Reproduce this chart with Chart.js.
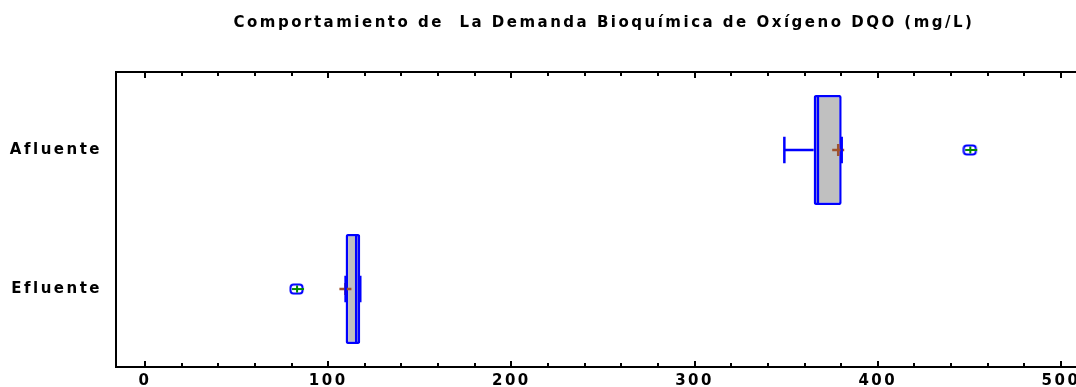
<!DOCTYPE html>
<html>
<head>
<meta charset="utf-8">
<script src="https://cdn.jsdelivr.net/npm/chart.js@4.4.0/dist/chart.umd.min.js"></script>
<style>
  html, body { margin: 0; padding: 0; background: #fff; }
  canvas { display: block; }
</style>
</head>
<body>
<canvas id="box-chart" width="1076" height="387"></canvas>
<script>
const categories = ["Afluente", "Efluente"];
const whiskerLow = [349, 109.5];
const q1 = [365, 109.5];
const median = [367.3, 115.3];
const q3 = [380.3, 117.5];
const whiskerHigh = [380.3, 117.5];
const means = [378.4, 109.4];
const outliers = [[450.5], [83]];

const majorTicks = [0, 100, 200, 300, 400, 500];
const minorTicks = [20, 40, 60, 80, 120, 140, 160, 180, 220, 240, 260, 280, 320, 340, 360, 380, 420, 440, 460, 480];

const letterGap = "2.5px";
const capHalf = 0.096;
const boxHalf = 0.39;

Chart.defaults.font.family = "'DejaVu Sans', 'Liberation Sans', Arial, sans-serif";
Chart.defaults.font.size = 15;
Chart.defaults.font.weight = "bold";
Chart.defaults.color = "#000";

// little rounded box with a green cross for the outliers
const outlierImg = document.createElement("canvas");
outlierImg.width = 16;
outlierImg.height = 12;
let oc = outlierImg.getContext("2d");
oc.fillStyle = "#fff";
oc.strokeStyle = "#0000ff";
oc.lineWidth = 2;
oc.beginPath();
oc.roundRect(1.5, 1.5, 12, 9, 3);
oc.fill();
oc.stroke();
oc.strokeStyle = "#008a00";
oc.lineWidth = 2;
oc.beginPath();
oc.moveTo(3, 6);
oc.lineTo(15, 6);
oc.moveTo(8, 2.5);
oc.lineTo(8, 9.5);
oc.stroke();

const gap = { x: NaN, y: NaN };
let whiskerPts = [];
let medianPts = [];
let meanPts = [];
let outlierPts = [];
let boxes = [];

categories.forEach((c, i) => {
  whiskerPts.push(
    { x: whiskerLow[i], y: i }, { x: q1[i], y: i }, gap,
    { x: q3[i], y: i }, { x: whiskerHigh[i], y: i }, gap,
    { x: whiskerLow[i], y: i - capHalf }, { x: whiskerLow[i], y: i + capHalf }, gap,
    { x: whiskerHigh[i], y: i - capHalf }, { x: whiskerHigh[i], y: i + capHalf }, gap
  );
  medianPts.push({ x: median[i], y: i - boxHalf }, { x: median[i], y: i + boxHalf }, gap);
  meanPts.push({ x: means[i], y: i });
  outliers[i].forEach((v) => outlierPts.push({ x: v, y: i }));
  boxes.push({ x: [q1[i], q3[i]], y: i });
});

const frameTicks = {
  id: "frameTicks",
  beforeUpdate(chart) {
    chart.ctx.letterSpacing = letterGap;
  },
  afterLayout(chart) {
    // title sits a little right of the plot centre
    chart.titleBlock.left += 8;
    chart.titleBlock.right += 8;
  },
  beforeDraw(chart) {
    chart.ctx.letterSpacing = letterGap;
  },
  afterDraw(chart) {
    const { ctx, chartArea } = chart;
    const xs = chart.scales.x;
    ctx.save();
    ctx.strokeStyle = "#000";
    ctx.lineWidth = 2;
    ctx.beginPath();
    ctx.moveTo(chartArea.left - 1, chartArea.top);
    ctx.lineTo(chartArea.right, chartArea.top);
    const tick = (v, len) => {
      let px = Math.round(xs.getPixelForValue(v));
      ctx.moveTo(px, chartArea.top);
      ctx.lineTo(px, chartArea.top + len);
      ctx.moveTo(px, chartArea.bottom);
      ctx.lineTo(px, chartArea.bottom - len);
    };
    majorTicks.forEach((v) => tick(v, 6));
    minorTicks.forEach((v) => tick(v, 4));
    ctx.stroke();
    ctx.restore();
  },
};

new Chart(document.getElementById("box-chart"), {
  type: "bar",
  data: {
    datasets: [
      {
        type: "line",
        data: outlierPts,
        showLine: false,
        pointStyle: outlierImg,
        pointRadius: 6,
      },
      {
        type: "line",
        data: whiskerPts,
        borderColor: "#0000ff",
        borderWidth: 2.5,
        pointRadius: 0,
        spanGaps: false,
      },
      {
        type: "line",
        data: medianPts,
        borderColor: "#0000ff",
        borderWidth: 2.5,
        pointRadius: 0,
        spanGaps: false,
      },
      {
        type: "line",
        data: meanPts,
        showLine: false,
        pointStyle: "cross",
        pointRadius: 6,
        pointBorderWidth: 2.5,
        pointBorderColor: "#a0522d",
      },
      {
        type: "bar",
        indexAxis: "y",
        data: boxes,
        backgroundColor: "#c0c0c0",
        borderColor: "#0000ff",
        borderWidth: 2.5,
        borderSkipped: false,
        borderRadius: 2,
        barPercentage: 0.79,
        categoryPercentage: 1,
      },
    ],
  },
  options: {
    responsive: false,
    animation: false,
    layout: { padding: 0, autoPadding: false },
    scales: {
      x: {
        type: "linear",
        position: "bottom",
        offset: false,
        min: -15.83,
        max: 508.2,
        grid: { display: false, drawTicks: false, offset: false },
        border: { display: true, color: "#000", width: 2 },
        ticks: { padding: 5, maxRotation: 0 },
        afterBuildTicks: (scale) => {
          scale.ticks = majorTicks.map((v) => ({ value: v }));
        },
        afterFit: (scale) => {
          scale.height = 20;
          scale.paddingLeft = 0;
          scale.paddingRight = 0;
        },
      },
      y: {
        type: "linear",
        position: "left",
        offset: false,
        beginAtZero: false,
        min: -0.561,
        max: 1.561,
        reverse: true,
        grid: { display: false, drawTicks: false, offset: false },
        border: { display: true, color: "#000", width: 2 },
        ticks: {
          padding: 14,
          callback: (value) => categories[value] || "",
        },
        afterBuildTicks: (scale) => {
          scale.ticks = categories.map((c, i) => ({ value: i }));
        },
        afterFit: (scale) => {
          scale.width = 116;
          scale.paddingTop = 0;
          scale.paddingBottom = 0;
        },
      },
    },
    plugins: {
      legend: { display: false },
      tooltip: { enabled: false },
      title: {
        display: true,
        fullSize: false,
        text: "Comportamiento de  La Demanda Bioquímica de Oxígeno DQO (mg/L)",
        font: { size: 15, weight: "bold" },
        color: "#000",
        padding: { top: 14, bottom: 40 },
      },
    },
  },
  plugins: [frameTicks],
});
</script>
</body>
</html>
